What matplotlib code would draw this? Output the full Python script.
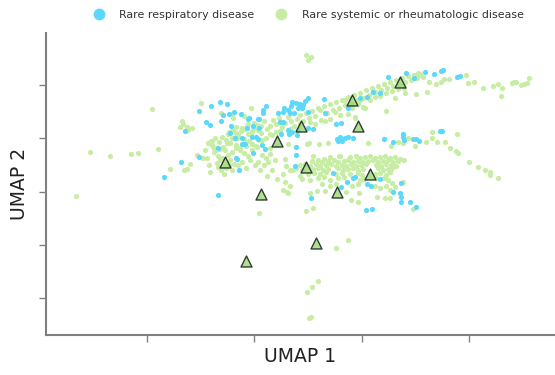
import numpy as np
import matplotlib
matplotlib.use("Agg")
import matplotlib.pyplot as plt
from matplotlib.lines import Line2D

# UMAP coordinates (arbitrary units)
respiratory = [
    (199,-111),(206,-122),(210,-125),(211,-106),(220,-102),(227,-104),(223,-115),(229,-114),(234,-112),(241,-114),
    (249,-118),(248,-119),(258,-119),(221,-121),(185,-131),(231,-126),(247,-128),(253,-126),(230,-133),(235,-138),
    (242,-138),(252,-137),(242,-144),(256,-137),(258,-139),(181,-162),(199,-157),(164,-177),(218,-195),(239,-170),
    (236,-158),(237,-159),(218,-148),(245,-144),(253,-153),(262,-145),(265,-149),
    (324,-99),(308,-98),(292,-102),(296,-103),(300,-104),(303,-105),(305,-101),(291,-106),(298,-108),(302,-108),
    (288,-110),(266,-106),(263,-110),(263,-113),(278,-113),(284,-108),(283,-112),(290,-113),(294,-113),(308,-112),
    (259,-119),(280,-122),(283,-122),(325,-113),(336,-124),(341,-123),(308,-128),(313,-129),(288,-130),(289,-134),
    (259,-128),(281,-134),(337,-139),(340,-137),(345,-138),(348,-137),(353,-138),(342,-141),(338,-141),(348,-108),
    (360,-98),(367,-97),(373,-92),(380,-93),
    (388,-77),(406,-73),(414,-78),(425,-72),(434,-74),(441,-71),(443,-70),(457,-77),(460,-76),
    (384,-139),(393,-142),(403,-134),(403,-137),(404,-140),(413,-139),(416,-139),(419,-141),(440,-131),(442,-131),
    (292,-132),(298,-130),(297,-135),(289,-132),(296,-147),(296,-155),(295,-166),(333,-173),(347,-182),(353,-178),
    (341,-187),(367,-184),(371,-186),(380,-179),(401,-183),(393,-192),(400,-193),(401,-197),(401,-202),(410,-202),
    (416,-207),(366,-210),(372,-209),(311,-198),(355,-177),
]

systemic = [
    # scattered left side
    (76,-196),(90,-152),(110,-156),(131,-154),(138,-153),(152,-109),(158,-149),(170,-169),(184,-170),(187,-169),
    (190,-164),(197,-155),(203,-158),(207,-158),(209,-165),(210,-172),(182,-121),(183,-124),(180,-127),(187,-127),
    (192,-128),(188,-130),(201,-103),(211,-141),(217,-148),(220,-149),(217,-163),(220,-160),(218,-167),(224,-174),
    (221,-113),(232,-114),(233,-118),(244,-116),(251,-108),(242,-128),(247,-126),(255,-128),(257,-125),(229,-132),
    (236,-133),(232,-138),(237,-138),(244,-139),(249,-141),(212,-141),(223,-147),(230,-143),(236,-145),(240,-148),
    (246,-146),(252,-144),(257,-147),(259,-140),
    (214,-152),(218,-156),(222,-158),(225,-150),(228,-155),(232,-152),(236,-148),(240,-150),(244,-153),(248,-156),
    (250,-160),(230,-160),(234,-164),(242,-162),(246,-168),(226,-168),(221,-170),(229,-165),(212,-145),(216,-150),
    (232,-170),(238,-165),(255,-165),(258,-162),(262,-155),(266,-158),(270,-148),(268,-162),(252,-150),(256,-146),
    (260,-170),(264,-165),(267,-176),(277,-179),(272,-170),(275,-160),(270,-154),(262,-140),(266,-138),(272,-135),
    (276,-132),(248,-134),(252,-131),(261,-133),(227,-143),
    # diagonal band
    (205,-150),(208,-143),(213,-147),(215,-138),(219,-142),(222,-137),(226,-140),(228,-134),(233,-130),(236,-127),
    (238,-135),(241,-131),(245,-129),(248,-124),(251,-134),(254,-123),(258,-130),(261,-126),(264,-121),(267,-129),
    (270,-126),(273,-120),(276,-124),(279,-118),(282,-127),(285,-123),(288,-117),(291,-121),(294,-126),(297,-119),
    (300,-115),(303,-121),(306,-113),(309,-118),(312,-111),(315,-116),(318,-108),(321,-120),(324,-106),(327,-113),
    (330,-104),(333,-110),(336,-102),(339,-108),(342,-100),(345,-105),(348,-97),(351,-103),(354,-95),(357,-100),
    (360,-93),(363,-98),(366,-90),(369,-95),(372,-88),(375,-92),(378,-86),(381,-90),(384,-84),(387,-88),
    (390,-82),(393,-86),(396,-80),(399,-84),(402,-78),(405,-82),(408,-76),(411,-80),(414,-75),(417,-78),
    (420,-74),(423,-77),(315,-124),(325,-121),(330,-119),(340,-115),(348,-114),(355,-117),(363,-107),(365,-108),
    (320,-110),(335,-112),(345,-100),(352,-108),(358,-104),(370,-100),(375,-97),(380,-96),(386,-93),(392,-91),
    (398,-89),(404,-88),(310,-122),(300,-124),(290,-129),(280,-131),(270,-134),
    # upper right extension
    (395,-98),(386,-111),(405,-93),(416,-94),(427,-92),(418,-73),(419,-75),(429,-82),(436,-84),(441,-82),
    (444,-79),(449,-79),(466,-75),(468,-83),(474,-82),(483,-88),(493,-86),(498,-84),(502,-88),(501,-96),
    (512,-83),(514,-82),(516,-82),(521,-85),(524,-84),(527,-83),(529,-78),(355,-118),(360,-100),(363,-107),
    (309,-143),(328,-143),(306,-55),(311,-57),(308,-60),
    # middle arm
    (391,-146),(398,-142),(403,-143),(408,-138),(415,-146),(426,-142),(432,-132),(432,-138),(437,-142),(445,-142),
    (450,-148),(456,-151),(458,-153),(457,-134),(469,-162),(478,-167),(485,-170),(490,-172),(490,-175),(498,-178),
    (368,-143),(288,-144),(277,-145),(307,-144),(319,-144),
    # lower blob
    (330,-157),(340,-156),(350,-157),(356,-156),(360,-158),(365,-157),(370,-156),(375,-158),(380,-157),(385,-156),
    (390,-158),(395,-157),(400,-159),(404,-160),
    (312,-161),(318,-160),(322,-162),(328,-161),(334,-160),(338,-162),(344,-161),(348,-160),(353,-162),(358,-161),
    (363,-162),(368,-161),(373,-160),(378,-162),(383,-161),(388,-160),(393,-162),(398,-161),
    (300,-165),(305,-164),(310,-166),(316,-164),(320,-166),(326,-165),(331,-164),(336,-166),(342,-165),(346,-166),
    (351,-164),(356,-166),(361,-165),(366,-164),(376,-165),(381,-166),(386,-164),(391,-165),(396,-166),
    (290,-170),(296,-168),(302,-170),(313,-169),(318,-168),(323,-170),(328,-169),(338,-168),(343,-170),(348,-169),
    (353,-168),(358,-170),(363,-169),(378,-168),(383,-170),(388,-169),(392,-168),
    (300,-176),(308,-174),(314,-173),(320,-174),(326,-172),(336,-174),(342,-173),(350,-174),(358,-173),(362,-175),
    (375,-174),(380,-173),(386,-175),(390,-172),
    (310,-180),(318,-178),(324,-177),(330,-180),(338,-178),(344,-177),(360,-180),(364,-179),(376,-178),(384,-178),
    (388,-180),(392,-183),
    (322,-184),(330,-186),(336,-184),(352,-186),(358,-184),(375,-186),(380,-188),(386,-186),(390,-190),
    (285,-159),(286,-166),(283,-174),(285,-182),(290,-186),(283,-190),(288,-193),(302,-179),(310,-193),(317,-191),
    (325,-191),(306,-211),(313,-208),(346,-192),(351,-200),(358,-202),(359,-193),(377,-197),(385,-198),(390,-198),
    (403,-182),(413,-209),(390,-172),(395,-187),(313,-156),(324,-159),(339,-156),(293,-170),(287,-192),(259,-213),
    (336,-248),(348,-240),(318,-281),(312,-287),(307,-292),(311,-317),(309,-318),
]

highlighted = [
    (225,-162),(246,-261),(261,-194),(277,-141),(301,-126),(306,-167),
    (316,-243),(337,-192),(352,-100),(358,-126),(370,-174),(400,-82),
]

legend_labels = ["Rare respiratory disease", "Rare systemic or rheumatologic disease"]
blue = "#5cd8fa"
green = "#c6eda3"

resp = np.array(respiratory)
syst = np.array(systemic)
hl = np.array(highlighted)

fig = plt.figure(figsize=(5.55, 3.75), dpi=100)
ax = fig.add_axes([46/555, 40/375, 509/555, 302/375])

ax.scatter(syst[:, 0], syst[:, 1], s=14, color=green, linewidths=0, zorder=2)
ax.scatter(resp[:, 0], resp[:, 1], s=14, color=blue, linewidths=0, zorder=3)
ax.scatter(hl[:, 0], hl[:, 1], s=62, marker="^", facecolor=(0.62, 0.84, 0.45, 0.8),
           edgecolor="#2b3d33", linewidths=1.0, zorder=4)

ax.set_xlim(46, 555)
ax.set_ylim(-335, -33)
ax.set_xticks([147, 254, 362, 469])
ax.set_yticks([-298, -245, -192, -138, -85])
ax.tick_params(axis="both", length=5, width=1, color="#808080", labelleft=False, labelbottom=False)
for s in ["top", "right"]:
    ax.spines[s].set_visible(False)
for s in ["left", "bottom"]:
    ax.spines[s].set_color("#808080")
    ax.spines[s].set_linewidth(1.5)

ax.set_xlabel("UMAP 1", fontsize=13.5, color="#222222", labelpad=4)
ax.set_ylabel("UMAP 2", fontsize=13.5, color="#222222", labelpad=7)

handles = [Line2D([], [], marker="o", linestyle="", markersize=8.5, markerfacecolor=c, markeredgewidth=0)
           for c in (blue, green)]
fig.legend(handles, legend_labels, loc="center", bbox_to_anchor=(0.551, 0.96), ncol=2,
           frameon=False, fontsize=7.9, handletextpad=0.9, columnspacing=1.4,
           labelcolor="#333333")

fig.savefig("out.png", dpi=100)
